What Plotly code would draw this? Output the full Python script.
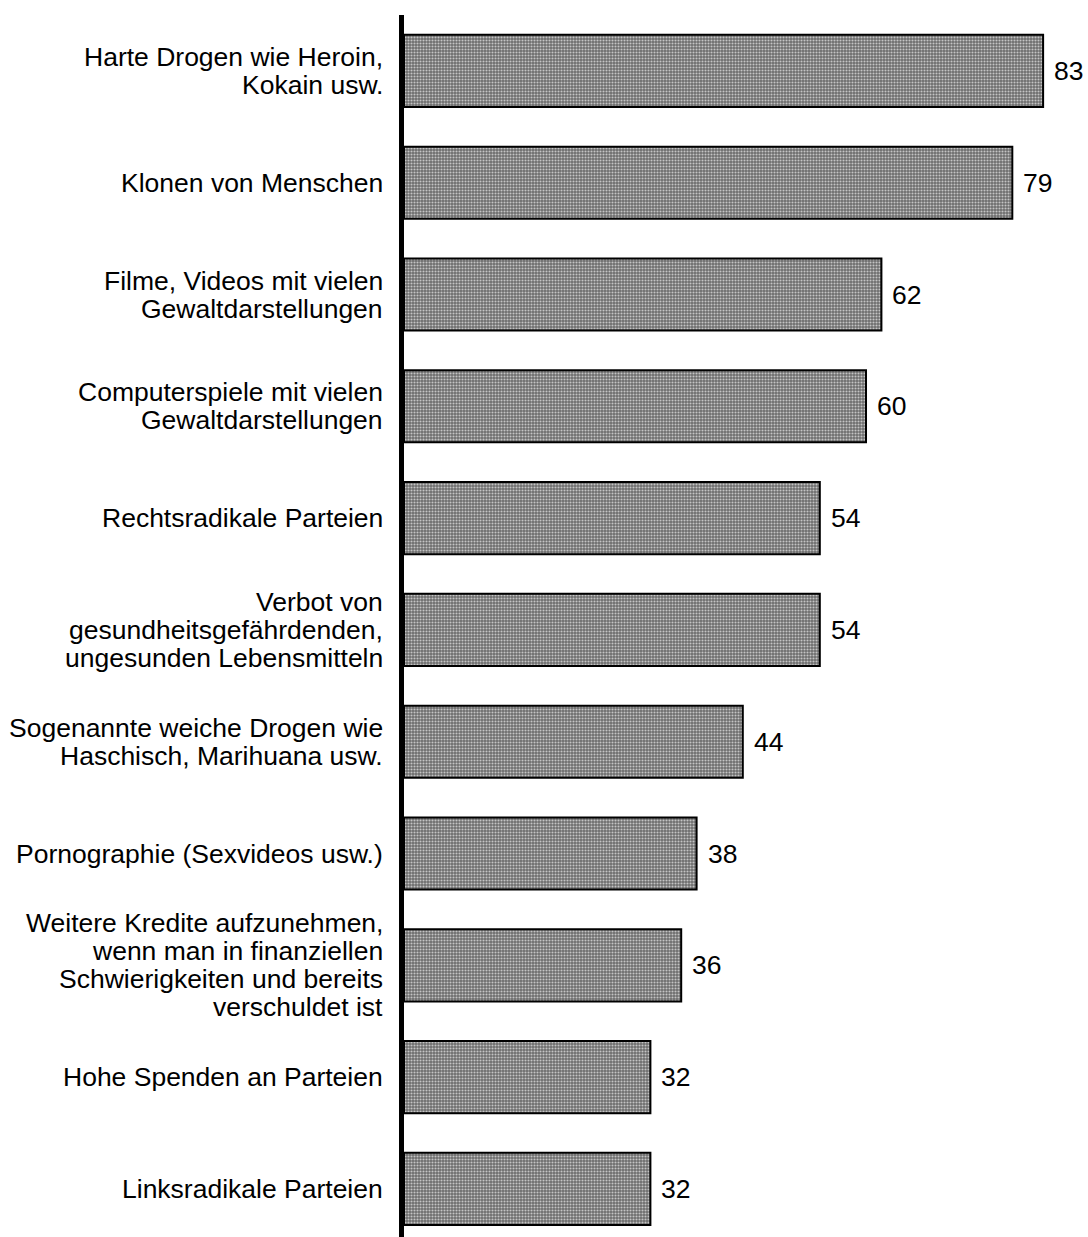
import plotly.graph_objects as go

categories = [
    "Harte Drogen wie Heroin,<br>Kokain usw.",
    "Klonen von Menschen",
    "Filme, Videos mit vielen<br>Gewaltdarstellungen",
    "Computerspiele mit vielen<br>Gewaltdarstellungen",
    "Rechtsradikale Parteien",
    "Verbot von<br>gesundheitsgefährdenden,<br>ungesunden Lebensmitteln",
    "Sogenannte weiche Drogen wie<br>Haschisch, Marihuana usw.",
    "Pornographie (Sexvideos usw.)",
    "Weitere Kredite aufzunehmen,<br>wenn man in finanziellen<br>Schwierigkeiten und bereits<br>verschuldet ist",
    "Hohe Spenden an Parteien",
    "Linksradikale Parteien",
]
values = [83, 79, 62, 60, 54, 54, 44, 38, 36, 32, 32]

FONT = "Liberation Sans, Arial, sans-serif"
FS = 26.5
LINE_H = 28

positions = list(range(len(categories)))

fig = go.Figure()
fig.add_trace(go.Bar(
    x=values,
    y=positions,
    orientation="h",
    width=0.645,
    marker=dict(
        color="#7a7a7a",
        line=dict(color="black", width=2),
        pattern=dict(shape=".", size=3, solidity=0.4,
                     fgcolor="#c4c4c4", bgcolor="#6c6c6c", fillmode="replace"),
    ),
    hoverinfo="skip",
))

annotations = []
for i, (cat, v) in enumerate(zip(categories, values)):
    lines = cat.split("<br>")
    n = len(lines)
    for k, line in enumerate(lines):
        annotations.append(dict(
            x=0, y=i, xref="x", yref="y",
            text=line, showarrow=False,
            xanchor="right", yanchor="middle",
            xshift=-19, yshift=((n - 1) / 2 - k) * LINE_H,
            font=dict(family=FONT, size=FS, color="black"),
        ))
    annotations.append(dict(
        x=v, y=i, xref="x", yref="y",
        text=str(v), showarrow=False,
        xanchor="left", yanchor="middle",
        xshift=9,
        font=dict(family=FONT, size=FS, color="black"),
    ))

fig.update_layout(
    width=1088, height=1237,
    margin=dict(l=404, r=0, t=15, b=0),
    paper_bgcolor="white", plot_bgcolor="white",
    showlegend=False,
    annotations=annotations,
    xaxis=dict(range=[0, 88.83], visible=False, fixedrange=True),
    yaxis=dict(range=[10.43, -0.5], showticklabels=False, showgrid=False,
               zeroline=False, showline=True, linecolor="black", linewidth=5,
               ticks="", fixedrange=True),
    font=dict(family=FONT, size=FS, color="black"),
)

fig.write_html(
    "out.html",
    config={"displayModeBar": False},
    post_script="document.body.style.margin='0';"
                "document.body.style.overflow='hidden';"
                "document.documentElement.style.overflow='hidden';",
)
